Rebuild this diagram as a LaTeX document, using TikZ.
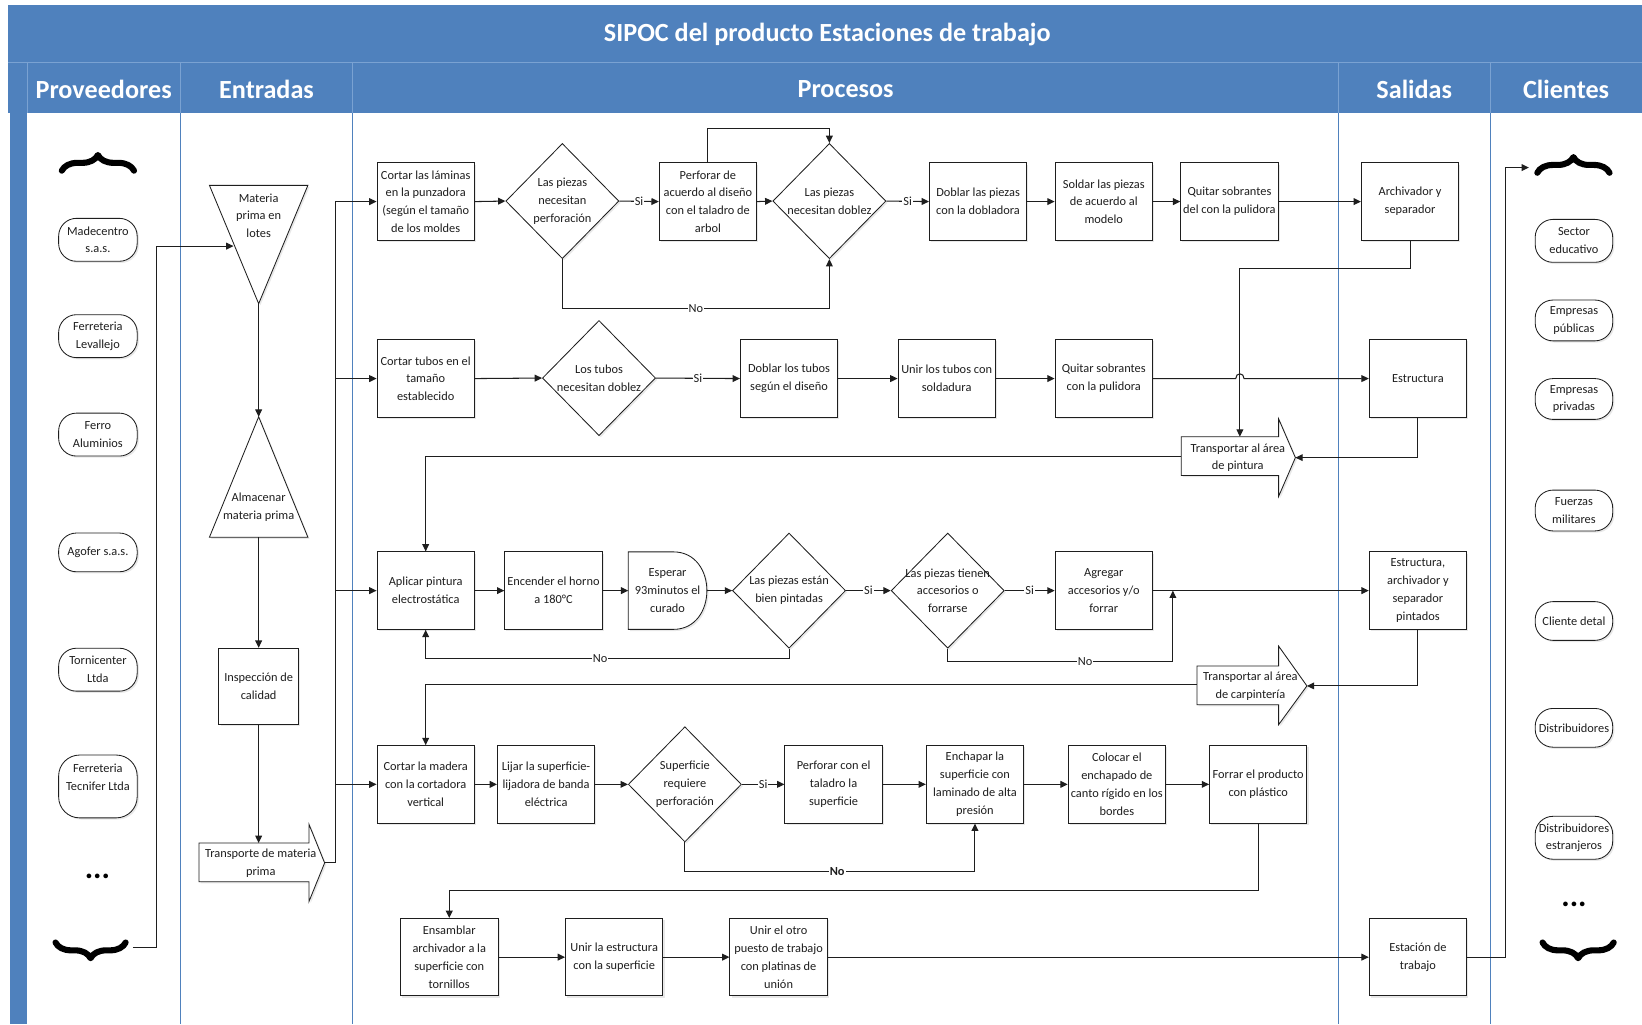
\documentclass[tikz,border=0pt]{standalone}
\usepackage{fontspec}
\setmainfont{Carlito}
\usetikzlibrary{shapes.geometric,arrows.meta,decorations.pathreplacing,shadows,calc}
\definecolor{sipoc}{RGB}{79,129,189}
\definecolor{sipocline}{RGB}{122,162,210}
\definecolor{ink}{RGB}{30,30,30}
\newcommand\boxfont{\fontsize{11.8}{17}\selectfont}
\newcommand\hdrfont{\fontsize{25}{30}\selectfont\bfseries}
\begin{document}
\begin{tikzpicture}[x=1pt,y=-1pt,
  softshadow/.style={drop shadow={shadow xshift=1.6pt,shadow yshift=-1.6pt,opacity=0.18}},
  proc/.style={draw=ink,line width=0.8pt,fill=white,minimum width=93pt,minimum height=74pt,inner sep=1pt,align=center,font=\boxfont,text=ink,softshadow},
  stad/.style={draw=ink,line width=0.8pt,fill=white,rounded corners=17pt,minimum width=75pt,minimum height=41pt,inner sep=1pt,align=center,font=\boxfont,text=ink,softshadow},
  dec/.style={diamond,draw=ink,line width=0.8pt,fill=white,minimum width=108pt,minimum height=110pt,inner sep=0pt,softshadow},
  txt/.style={align=center,font=\boxfont,text=ink,inner sep=0pt},
  shp/.style={draw=ink,line width=0.8pt,fill=white,softshadow},
  ln/.style={line width=1pt,draw=ink},
  arr/.style={ln,-{Triangle[length=7pt,width=6.5pt]}},
  yn/.style={fill=white,inner sep=1pt,font=\boxfont,text=ink},
  brc/.style={decorate,decoration={brace,amplitude=15pt},line width=5.8pt,line cap=round,line join=round,draw=black},
  colline/.style={draw=sipoc,line width=0.9pt},
  hdr/.style={text=white,font=\hdrfont,inner sep=0pt},
  dots/.style={font=\fontsize{30}{30}\selectfont\bfseries,text=black,anchor=base,inner sep=0pt},
]
% ---------- frame ----------
\fill[white] (0,0) rectangle (1568,978);
\useasboundingbox (0,0) rectangle (1568,978);
\fill[sipoc] (8,5) rectangle (1568,108);
\fill[sipoc] (10,108) rectangle (26,978);
\draw[sipocline,line width=1pt] (8,60) -- (1568,60);
\foreach \x in {26,172,337,1278,1423} \draw[sipocline,line width=0.8pt] (\x,60) -- (\x,108);
\foreach \x in {172,337,1278,1423} \draw[colline] (\x,108) -- (\x,978);

\node[hdr] (title) at (790,33) {SIPOC del producto Estaciones de trabajo};
\node[hdr] (hP) at (99,85) {Proveedores};
\node[hdr] (hE) at (254.5,85) {Entradas};
\node[hdr] (hPr) at (807.5,85) {Procesos};
\node[hdr] (hS) at (1350.5,85) {Salidas};
\node[hdr] (hC) at (1495.5,85) {Clientes};

% ---------- suppliers ----------
\draw[brc] (59,163) -- (128,163);
\node[stad] (p1) at (93.5,229) {Madecentro\\s.a.s.};
\node[stad] (p2) at (93.5,321) {Ferreteria\\Levallejo};
\node[stad] (p3) at (93.5,415) {Ferro\\Aluminios};
\node[stad,minimum height=37pt] (p4) at (93.5,527.5) {Agofer s.a.s.};
\node[stad] (p5) at (93.5,639.5) {Tornicenter\\Ltda};
\node[stad,minimum height=60pt,rounded corners=20pt] (p6) at (93.5,751) {Ferreteria\\Tecnifer Ltda\\\mbox{}};
\node[dots] (pdots) at (93,839) {...};
\draw[brc] (120,900) -- (53,900);
\coordinate (pbrR) at (127,905);

% ---------- customers ----------
\draw[brc] (1468,165) -- (1537,165);
\coordinate (cbrT) at (1460,160);
\node[stad,minimum width=74pt] (c1) at (1503,230) {Sector\\educativo};
\node[stad,minimum width=74pt,minimum height=39pt] (c2) at (1503,306) {Empresas\\públicas};
\node[stad,minimum width=74pt,minimum height=39pt] (c3) at (1503,381) {Empresas\\privadas};
\node[stad,minimum width=74pt,minimum height=39pt] (c4) at (1503,487.5) {Fuerzas\\militares};
\node[stad,minimum width=74pt,minimum height=37pt] (c5) at (1503,593) {Cliente detal};
\node[stad,minimum width=74pt,minimum height=37pt] (c6) at (1503,695) {Distribuidores};
\node[stad,minimum width=74pt] (c7) at (1503,800) {Distribuidores\\estranjeros};
\node[dots] (cdots) at (1503,866) {...};
\draw[brc] (1541,900) -- (1473,900);

% ---------- inputs ----------
\coordinate (mpA) at (200,177);
\coordinate (mpB) at (294,177);
\coordinate (mpTip) at (247,290);
\coordinate (mpIn) at (223,235);
\draw[shp] (mpA) -- (mpB) -- (mpTip) -- cycle;
\node[txt] (mpt) at (247,206) {Materia\\prima en\\lotes};

\coordinate (almTop) at (247,398);
\coordinate (almR) at (294,513);
\coordinate (almL) at (200,513);
\coordinate (almBase) at (247,513);
\draw[shp] (almTop) -- (almR) -- (almL) -- cycle;
\node[txt] (almt) at (247,484) {Almacenar\\materia prima};

\node[proc,minimum width=76pt,minimum height=73pt] (insp) at (247,655.5) {Inspección de\\calidad};

\coordinate (tpTop) at (247,805);
\coordinate (tpTip) at (310,824);
\draw[shp] (190,805) -- (295,805) -- (295,787) -- (tpTip) -- (295,861) -- (295,842) -- (190,842) -- cycle;
\node[txt] (tpt) at (249,824) {Transporte de materia\\prima};

% ---------- process row 1 ----------
\node[proc] (cl) at (406.5,192.5) {Cortar las láminas\\en la punzadora\\(según el tamaño\\de los moldes};
\node[dec] (d1) at (537,192) {};
\node[txt] (d1t) at (d1) {Las piezas\\necesitan\\perforación};
\node[proc] (perf) at (676,192.5) {Perforar de\\acuerdo al diseño\\con el taladro de\\arbol};
\node[dec] (d2) at (792,192) {};
\node[txt] (d2t) at (d2) {Las piezas\\necesitan doblez};
\node[proc] (dob) at (934,192.5) {Doblar las piezas\\con la dobladora};
\node[proc] (sol) at (1054,192.5) {Soldar las piezas\\de acuerdo al\\modelo};
\node[proc] (qui) at (1174,192.5) {Quitar sobrantes\\del con la pulidora};
\node[proc] (arch) at (1346.5,192.5) {Archivador y\\separador};

% ---------- process row 2 ----------
\node[proc] (ct) at (406.5,361.5) {Cortar tubos en el\\tamaño\\establecido};
\node[dec] (dt) at (572,361) {};
\node[txt] (dtt) at (dt) {Los tubos\\necesitan doblez};
\node[proc] (dbt) at (753.5,361.5) {Doblar los tubos\\según el diseño};
\node[proc] (unt) at (904,361.5) {Unir los tubos con\\soldadura};
\node[proc] (qut) at (1054,361.5) {Quitar sobrantes\\con la pulidora};
\node[proc] (estr) at (1354,361.5) {Estructura};

\coordinate (tpiTip) at (1237,437);
\coordinate (tpiTop) at (1184,417);
\coordinate (tpiL) at (1128,436);
\draw[shp] (1128,417) -- (1221,417) -- (1221,400) -- (tpiTip) -- (1221,474) -- (1221,454) -- (1128,454) -- cycle;
\node[txt] (tpit) at (1182,437) {Transportar al área\\de pintura};

% ---------- process row 3 ----------
\node[proc] (apl) at (406.5,564) {Aplicar pintura\\electrostática};
\node[proc] (enc) at (528.5,564) {Encender el horno\\a 180°C};
\coordinate (espW) at (600,564);
\coordinate (espE) at (675,564);
\draw[shp] (600,527) -- (643,527) .. controls (685.7,527) and (685.7,601) .. (643,601) -- (600,601) -- cycle;
\node[txt] (espt) at (637.5,564) {Esperar\\93minutos el\\curado};
\node[dec] (d3) at (753.5,564) {};
\node[txt] (d3t) at (d3) {Las piezas están\\bien pintadas};
\node[dec] (d4) at (905,564) {};
\node[txt] (d4t) at (d4) {Las piezas tienen\\accesorios o\\forrarse};
\node[proc] (agr) at (1054,564) {Agregar\\accesorios y/o\\forrar};
\node[proc] (pint) at (1354,564) {Estructura,\\archivador y\\separador\\pintados};

\coordinate (tcaTip) at (1248,655);
\coordinate (tcaL) at (1143,654);
\draw[shp] (1143,636) -- (1221,636) -- (1221,617) -- (tcaTip) -- (1221,692) -- (1221,673) -- (1143,673) -- cycle;
\node[txt] (tcat) at (1194,655) {Transportar al área\\de carpintería};

% ---------- process row 4 ----------
\node[proc] (cm) at (406.5,749) {Cortar la madera\\con la cortadora\\vertical};
\node[proc] (lij) at (521.5,749) {Lijar la superficie-\\lijadora de banda\\eléctrica};
\node[dec] (d5) at (654,749) {};
\node[txt] (d5t) at (d5) {Superficie\\requiere\\perforación};
\node[proc] (pft) at (796,749) {Perforar con el\\taladro la\\superficie};
\node[proc] (ench) at (931,749) {Enchapar la\\superficie con\\laminado de alta\\presión};
\node[proc] (col) at (1066.5,749) {Colocar el\\enchapado de\\canto rígido en los\\bordes};
\node[proc] (forr) at (1201.5,749) {Forrar el producto\\con plástico};

% ---------- process row 5 ----------
\node[proc] (ens) at (429,914) {Ensamblar\\archivador a la\\superficie con\\tornillos};
\node[proc] (une) at (586.5,914) {Unir la estructura\\con la superficie};
\node[proc] (uno) at (743.5,914) {Unir el otro\\puesto de trabajo\\con platinas de\\unión};
\node[proc] (esta) at (1354,914) {Estación de\\trabajo};

% ---------- connectors: suppliers and inputs ----------
\draw[arr] (pbrR) -- (149,905) -- (149,235) -- (mpIn);
\draw[arr] (mpTip) -- (almTop);
\draw[arr] (almBase) -- (insp.north);
\draw[arr] (insp.south) -- (tpTop);
\coordinate (trunk) at (320,824);
\draw[ln] (tpTip) -- (trunk) -- (trunk |- cl.west);
\foreach \n in {cl,ct,apl,cm} \draw[arr] (trunk |- \n.west) -- (\n.west);

% ---------- connectors: row 1 ----------
\draw[arr] (cl.east) -- (d1.west);
\draw[arr] (d1.east) -- node[yn]{Si} (perf.west);
\draw[arr] (perf.east) -- (d2.west);
\draw[arr] (perf.north) -- (perf.north |- 0,123) -| (d2.north);
\draw[arr] (d1.south) -- (d1.south |- 0,295) -- node[yn]{No} (d2.south |- 0,295) -- (d2.south);
\draw[arr] (d2.east) -- node[yn]{Si} (dob.west);
\draw[arr] (dob.east) -- (sol.west);
\draw[arr] (sol.east) -- (qui.west);
\draw[arr] (qui.east) -- (arch.west);
\draw[arr] (arch.south) -- (arch.south |- 0,256) -| (tpiTop);

% ---------- connectors: row 2 ----------
\draw[arr] (ct.east) -- (dt.west);
\draw[arr] (dt.east) -- node[yn]{Si} (dbt.west);
\draw[arr] (dbt.east) -- (unt.west);
\draw[arr] (unt.east) -- (qut.west);
\draw[arr] (qut.east) -- (1180,361.5) .. controls (1180,355.5) and (1188,355.5) .. (1188,361.5) -- (estr.west);
\draw[arr] (estr.south) |- (tpiTip);
\draw[arr] (tpiL) -- (apl.north |- tpiL) -- (apl.north);

% ---------- connectors: row 3 ----------
\draw[arr] (apl.east) -- (enc.west);
\draw[arr] (enc.east) -- (espW);
\draw[arr] (espE) -- (d3.west);
\draw[arr] (d3.east) -- node[yn]{Si} (d4.west);
\draw[arr] (d4.east) -- node[yn]{Si} (agr.west);
\draw[arr] (agr.east) -- (pint.west);
\draw[arr] (d3.south) -- (d3.south |- 0,629) -- node[yn,pos=0.52]{No} (apl.south |- 0,629) -- (apl.south);
\draw[arr] (d4.south) -- (d4.south |- 0,632) -- node[yn,pos=0.61]{No} (1120,632) -- (1120,564);
\draw[arr] (pint.south) |- (tcaTip);
\draw[arr] (tcaL) -- (cm.north |- tcaL) -- (cm.north);

% ---------- connectors: row 4 ----------
\draw[arr] (cm.east) -- (lij.west);
\draw[arr] (lij.east) -- (d5.west);
\draw[arr] (d5.east) -- node[yn]{Si} (pft.west);
\draw[arr] (pft.east) -- (ench.west);
\draw[arr] (ench.east) -- (col.west);
\draw[arr] (col.east) -- (forr.west);
\draw[arr] (d5.south) -- (d5.south |- 0,832) -- node[yn,pos=0.525,font=\boxfont\bfseries]{No} (ench.south |- 0,832) -- (ench.south);
\draw[arr] (forr.south) -- (forr.south |- 0,850) -| (ens.north);

% ---------- connectors: row 5 ----------
\draw[arr] (ens.east) -- (une.west);
\draw[arr] (une.east) -- (uno.west);
\draw[arr] (uno.east) -- (esta.west);
\draw[arr] (esta.east) -- (1438,914) -- (1438,160) -- (cbrT);
\end{tikzpicture}
\end{document}
